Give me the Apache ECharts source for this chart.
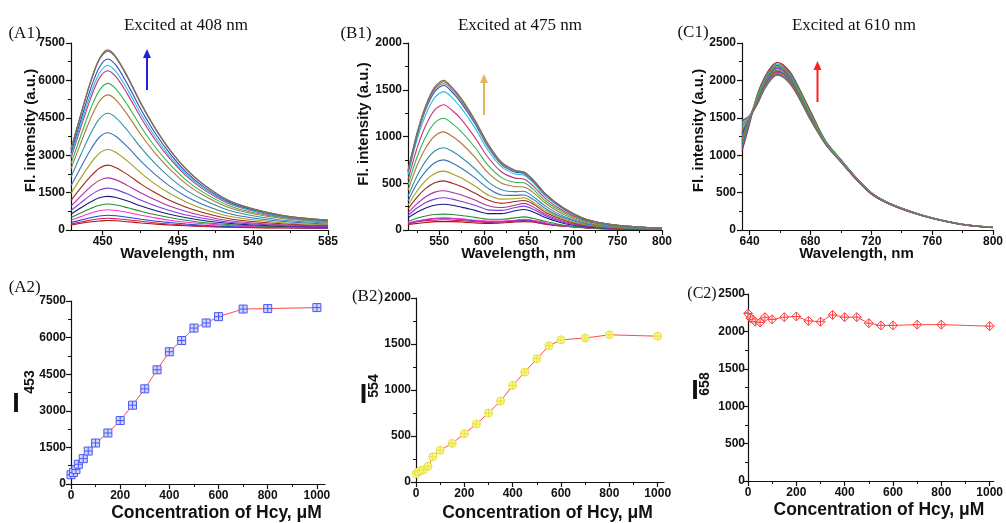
<!DOCTYPE html>
<html><head><meta charset="utf-8">
<script src="https://cdn.jsdelivr.net/npm/echarts@6/dist/echarts.min.js"></script>
<style>html,body{margin:0;padding:0;background:#fff}#c{width:1006px;height:523px}</style>
</head><body><div id="c"></div>
<script>
// ---------- data ----------
const concentrations = [0,10,20,30,50,70,100,150,200,250,300,350,400,450,500,550,600,700,800,1000];
const i453 = [380,470,590,810,1040,1350,1680,2090,2600,3230,3900,4680,5420,5880,6390,6600,6860,7170,7190,7230];
const i554 = [90,110,125,130,170,275,345,420,525,630,750,880,1050,1195,1340,1480,1545,1565,1600,1585];
const i658 = [2240,2180,2160,2130,2120,2190,2160,2190,2200,2140,2130,2220,2190,2190,2110,2080,2080,2090,2090,2070];

const a1Wavelengths = [431,437,443,448,453,458,465,473,481,490,500,510,525,540,560,585];
const a1Spectra = [
 [200,270,330,360,380,370,330,280,240,200,170,140,110,95,80,75],
 [240,320,400,450,470,450,410,350,290,240,200,160,125,105,90,80],
 [300,400,500,560,590,570,510,430,360,300,240,190,140,120,100,85],
 [390,540,680,770,810,780,700,590,490,390,310,250,180,140,110,95],
 [500,690,870,990,1040,1000,890,750,620,500,390,300,220,170,130,110],
 [630,890,1130,1290,1350,1300,1160,960,790,630,490,380,270,200,150,120],
 [780,1100,1410,1600,1680,1620,1440,1190,980,780,600,470,320,240,170,140],
 [960,1370,1750,1990,2090,2010,1780,1480,1220,960,740,570,380,280,200,160],
 [1190,1700,2170,2480,2600,2500,2220,1840,1510,1190,910,700,460,340,240,180],
 [1470,2100,2690,3080,3230,3110,2750,2280,1860,1470,1120,850,560,410,280,210],
 [1770,2530,3250,3720,3900,3750,3320,2750,2250,1770,1340,1020,670,480,330,240],
 [2120,3040,3900,4460,4680,4500,3980,3290,2690,2120,1600,1220,800,570,380,280],
 [2450,3510,4510,5160,5420,5210,4610,3810,3110,2450,1850,1400,910,650,440,310],
 [2650,3810,4900,5600,5880,5650,5000,4130,3370,2650,2000,1520,990,700,470,330],
 [2880,4140,5320,6090,6390,6140,5430,4490,3660,2880,2170,1640,1070,760,500,360],
 [2970,4270,5500,6290,6600,6350,5610,4640,3780,2970,2240,1700,1100,780,520,370],
 [3090,4440,5710,6530,6860,6600,5830,4820,3930,3090,2320,1760,1140,810,540,380],
 [3220,4640,5970,6830,7170,6890,6100,5040,4110,3220,2430,1840,1190,840,560,390],
 [3230,4650,5990,6850,7190,6910,6120,5050,4120,3230,2440,1850,1190,850,560,400],
 [3250,4680,6020,6880,7230,6950,6150,5080,4140,3250,2450,1850,1200,850,560,400]
];

const b1Wavelengths = [515,525,535,545,555,565,575,590,605,620,635,645,655,670,690,715,750,800];
const b1Spectra = [
 [60,70,80,90,90,90,85,75,70,75,85,90,85,60,40,20,10,5],
 [65,85,100,105,110,105,100,90,80,85,95,100,90,65,40,25,10,5],
 [70,95,110,120,125,120,115,100,90,90,100,110,100,70,45,25,10,5],
 [75,95,115,125,130,125,120,105,95,95,105,115,105,75,45,25,10,5],
 [90,125,150,165,170,165,155,135,115,115,130,140,125,90,50,25,10,5],
 [130,190,235,265,275,265,245,210,175,175,205,220,195,130,70,35,15,5],
 [155,235,295,330,345,330,305,265,215,210,240,255,225,150,80,40,15,5],
 [185,280,355,405,420,400,375,320,260,240,265,285,250,165,90,45,20,5],
 [225,350,445,505,525,500,465,395,320,285,305,315,280,185,105,50,20,10],
 [265,415,530,605,630,600,555,470,375,330,335,345,300,205,115,55,25,10],
 [310,495,630,720,750,715,660,560,445,375,370,375,330,225,130,65,30,10],
 [360,575,740,845,880,840,775,655,515,430,410,415,360,250,145,70,30,10],
 [425,685,880,1005,1050,1000,925,780,610,500,465,460,405,280,165,80,35,15],
 [480,775,1000,1145,1195,1135,1050,885,690,560,510,505,440,305,185,90,40,15],
 [535,870,1120,1285,1340,1275,1180,990,775,620,555,545,475,330,200,100,45,15],
 [590,960,1235,1415,1480,1410,1300,1095,850,675,600,585,510,355,220,110,50,20],
 [615,1000,1290,1480,1545,1470,1355,1140,885,700,620,605,525,370,225,110,50,20],
 [620,1015,1305,1500,1565,1490,1375,1155,900,710,630,615,535,375,230,115,50,20],
 [635,1035,1335,1530,1600,1520,1405,1180,920,725,640,620,540,380,235,115,50,20],
 [630,1025,1325,1515,1585,1510,1390,1170,910,720,635,620,540,380,230,115,50,20]
];

const c1Wavelengths = [635,640,645,650,655,658,662,667,672,680,690,700,710,720,730,745,760,780,800];
const c1Spectra = [
 [1050,1420,1810,2050,2200,2240,2210,2100,1920,1590,1190,940,700,495,375,255,160,75,35],
 [1150,1470,1760,1990,2140,2180,2150,2040,1870,1550,1170,920,680,485,365,245,155,72,32],
 [1200,1490,1750,1970,2120,2160,2130,2020,1860,1530,1170,930,695,495,372,252,162,76,36],
 [1250,1500,1720,1950,2090,2130,2100,1990,1830,1510,1160,915,680,482,365,246,156,72,33],
 [1450,1530,1720,1940,2080,2120,2090,1990,1820,1500,1160,925,690,492,370,250,160,75,35],
 [1120,1460,1770,2000,2150,2190,2160,2050,1880,1550,1180,935,700,498,376,254,161,74,34],
 [1300,1510,1750,1970,2120,2160,2130,2020,1860,1530,1165,920,685,486,366,247,157,73,33],
 [1080,1440,1770,2000,2150,2190,2160,2050,1880,1550,1185,940,702,500,378,256,163,77,36],
 [1180,1490,1780,2010,2160,2200,2170,2060,1890,1560,1180,930,690,490,370,250,160,75,35],
 [1350,1510,1730,1960,2100,2140,2110,2000,1840,1520,1165,918,682,484,364,246,156,72,32],
 [1400,1520,1720,1950,2090,2130,2100,1990,1830,1510,1160,925,692,494,372,252,161,76,36],
 [1100,1450,1800,2030,2180,2220,2190,2080,1910,1570,1190,938,698,496,374,253,160,74,34],
 [1230,1500,1770,2000,2150,2190,2160,2050,1880,1550,1175,925,688,488,368,248,158,74,34],
 [1160,1480,1770,2000,2150,2190,2160,2050,1880,1550,1180,932,694,493,371,251,161,75,35],
 [1470,1530,1710,1930,2070,2110,2080,1980,1810,1500,1150,912,678,480,362,244,155,71,32],
 [1420,1520,1680,1900,2040,2080,2050,1950,1790,1480,1150,918,686,488,367,249,159,74,34],
 [1280,1500,1680,1900,2040,2080,2050,1950,1790,1480,1145,910,680,484,364,247,158,74,34],
 [1380,1510,1690,1910,2050,2090,2060,1960,1800,1480,1155,922,690,492,371,252,162,76,36],
 [1210,1490,1690,1910,2050,2090,2060,1960,1800,1480,1150,915,684,486,366,248,158,74,34],
 [1320,1500,1680,1890,2030,2070,2040,1940,1780,1470,1140,908,678,482,363,245,156,73,33]
];

// tick labels
const a1Ticks = [450,495,540,585];
const a1Minor = [472.5,517.5,562.5];
const b1Ticks = [550,600,650,700,750,800];
const b1Minor = [525,575,625,675,725,775];
const c1Ticks = [640,680,720,760,800];
const c1Minor = [660,700,740,780];
const concTicks = [0,200,400,600,800,1000];
const concMinor = [100,300,500,700,900];

// ---------- styles ----------
const sans = '"Liberation Sans", Arial, sans-serif';
const serifFont = '"Liberation Serif", "Times New Roman", serif';
const ink = '#111';
const palette = ['#b01010','#d02050','#2040e0','#ff30d0','#209030','#1a1a80','#7b3fe0','#b030a0','#a02818','#a0a020',
                 '#3a70b8','#3090a8','#b07838','#30b850','#c8307a','#30c0d8','#3048c8','#909090','#8a6e50','#787060'];

const grids = [
  {left: 71, top: 43, width: 257, height: 187},
  {left: 408, top: 43, width: 254, height: 187},
  {left: 742, top: 43, width: 255, height: 187},
  {left: 71, top: 301, width: 254, height: 186},
  {left: 416, top: 298, width: 248, height: 187},
  {left: 748, top: 294, width: 251, height: 187}
];

const xSpecs = [
  {min: 431, max: 585, major: a1Ticks, minor: a1Minor, name: 'Wavelength, nm', gap: 16, pad: [0,44,0,0], size: 15},
  {min: 515, max: 800, major: b1Ticks, minor: b1Minor, name: 'Wavelength, nm', gap: 16, pad: [0,33,0,0], size: 15},
  {min: 635, max: 800, major: c1Ticks, minor: c1Minor, name: 'Wavelength, nm', gap: 16, pad: [0,22,0,0], size: 15},
  {min: 0, max: 1033, major: concTicks, minor: concMinor, name: 'Concentration of Hcy, μM', gap: 20, pad: [0,0,0,37], size: 17.5},
  {min: 0, max: 1026, major: concTicks, minor: concMinor, name: 'Concentration of Hcy, μM', gap: 22, pad: [0,0,0,15], size: 17.5},
  {min: 0, max: 1017, major: concTicks, minor: concMinor, name: 'Concentration of Hcy, μM', gap: 20, pad: [0,0,0,16], size: 17.5}
];
const ySpecs = [
  {max: 7500, interval: 1500, name: 'Fl. intensity (a.u.)', gap: 33, pad: [0,0,0,12], margin: 6},
  {max: 2000, interval: 500, name: 'Fl. intensity (a.u.)', gap: 37, pad: [0,0,0,25], margin: 6},
  {max: 2500, interval: 500, name: 'Fl. intensity (a.u.)', gap: 36, pad: [0,0,0,12], margin: 6},
  {max: 7500, interval: 1500, margin: 5},
  {max: 2000, interval: 500, margin: 5},
  {max: 2500, interval: 500, margin: 3}
];

const tickLabel = {fontFamily: sans, fontWeight: 'bold', fontSize: 12, color: ink};

const xAxes = [];
xSpecs.forEach((s, i) => {
  xAxes.push({
    type: 'value', gridIndex: i, min: s.min, max: s.max, position: 'bottom',
    axisLine: {onZero: false, lineStyle: {color: ink, width: 1.2}},
    axisTick: {customValues: s.major, length: 5, lineStyle: {color: ink, width: 1.2}},
    axisLabel: Object.assign({customValues: s.major, margin: 6, formatter: v => String(v)}, tickLabel),
    splitLine: {show: false},
    name: s.name, nameLocation: 'middle', nameGap: s.gap, nameMoveOverlap: false,
    nameTextStyle: {fontFamily: sans, fontWeight: 'bold', fontSize: s.size, color: ink, padding: s.pad}
  });
});
xSpecs.forEach((s, i) => {
  xAxes.push({
    type: 'value', gridIndex: i, min: s.min, max: s.max, position: 'bottom',
    axisLine: {show: false, onZero: false},
    axisTick: {customValues: s.minor, length: 3, lineStyle: {color: ink, width: 1}},
    axisLabel: {show: false},
    splitLine: {show: false}
  });
});

const yAxes = ySpecs.map((s, i) => {
  const ax = {
    type: 'value', gridIndex: i, min: 0, max: s.max, interval: s.interval,
    axisLine: {show: true, onZero: false, lineStyle: {color: ink, width: 1.2}},
    axisTick: {show: true, length: 5, lineStyle: {color: ink, width: 1.2}},
    minorTick: {show: true, splitNumber: 2, length: 3, lineStyle: {color: ink, width: 1}},
    axisLabel: Object.assign({margin: s.margin, formatter: v => String(v)}, tickLabel),
    splitLine: {show: false}, minorSplitLine: {show: false}
  };
  if (s.name) {
    Object.assign(ax, {name: s.name, nameLocation: 'middle', nameRotate: 90, nameGap: s.gap, nameMoveOverlap: false,
      nameTextStyle: {fontFamily: sans, fontWeight: 'bold', fontSize: 15, color: ink, padding: s.pad}});
  }
  return ax;
});

function spectraSeries(wl, rows, idx) {
  return rows.map((row, k) => ({
    type: 'line', xAxisIndex: idx, yAxisIndex: idx, symbol: 'none', silent: true,
    smooth: 0.3, z: 2,
    lineStyle: {width: 1.1, color: palette[k]},
    data: wl.map((w, j) => [w, row[j]])
  }));
}

const squarePlus = 'path://M0,0L10,0L10,10L0,10ZM5,0L5,10M0,5L10,5';
const circlePlus = 'path://M10,5A5,5,0,1,1,0,5A5,5,0,1,1,10,5ZM5,0L5,10M0,5L10,5';
const diamondPlus = 'path://M5,0L10,5L5,10L0,5ZM5,0L5,10M0,5L10,5';

const series = [].concat(
  spectraSeries(a1Wavelengths, a1Spectra, 0),
  spectraSeries(b1Wavelengths, b1Spectra, 1),
  spectraSeries(c1Wavelengths, c1Spectra, 2),
  [
    {type: 'line', xAxisIndex: 3, yAxisIndex: 3, data: concentrations.map((c, i) => [c, i453[i]]),
     symbol: squarePlus, symbolSize: 8, lineStyle: {color: '#ff4a4a', width: 1},
     itemStyle: {color: '#d0d4ff', borderColor: '#4a5af0', borderWidth: 1}},
    {type: 'line', xAxisIndex: 4, yAxisIndex: 4, data: concentrations.map((c, i) => [c, i554[i]]),
     symbol: circlePlus, symbolSize: 8, lineStyle: {color: '#ff4a4a', width: 1},
     itemStyle: {color: '#fafa80', borderColor: '#e8de50', borderWidth: 1}},
    {type: 'line', xAxisIndex: 5, yAxisIndex: 5, data: concentrations.map((c, i) => [c, i658[i]]),
     symbol: diamondPlus, symbolSize: 9, lineStyle: {color: '#ff4a4a', width: 1},
     itemStyle: {color: 'rgba(255,255,255,0.6)', borderColor: '#ff4040', borderWidth: 1}}
  ]
);

function txt(x, y, text, font, extra) {
  return Object.assign({type: 'text', x: x, y: y, silent: true,
    style: {text: text, font: font, fill: ink, align: 'center', verticalAlign: 'middle'}}, extra || {});
}
function arrow(x, tipY, tailY, color) {
  return {type: 'group', silent: true, children: [
    {type: 'rect', shape: {x: x - 1, y: tipY + 8, width: 2, height: tailY - tipY - 8}, style: {fill: color}},
    {type: 'polygon', shape: {points: [[x - 4, tipY + 9], [x + 4, tipY + 9], [x, tipY]]}, style: {fill: color}}
  ]};
}

const titleFont = '17px ' + serifFont;
const panelFont = '17px ' + serifFont;
const bigI = 'bold 27px ' + sans;
const subFont = 'bold 14px ' + sans;

const graphic = [
  txt(186, 26, 'Excited at 408 nm', titleFont),
  txt(520, 26, 'Excited at 475 nm', titleFont),
  txt(854, 26, 'Excited at 610 nm', titleFont),
  txt(24.5, 34, '(A1)', panelFont),
  txt(356, 34, '(B1)', panelFont),
  txt(693, 33, '(C1)', panelFont),
  txt(24.7, 288, '(A2)', panelFont),
  txt(367.5, 297, '(B2)', panelFont),
  txt(702, 294, '(C2)', '16px ' + serifFont),
  txt(16, 405, 'I', bigI),
  txt(30, 382, '453', subFont, {rotation: Math.PI / 2}),
  txt(363.5, 396, 'I', bigI),
  txt(374, 386, '554', subFont, {rotation: Math.PI / 2}),
  txt(695, 391.5, 'I', bigI),
  txt(705.5, 384, '658', subFont, {rotation: Math.PI / 2}),
  arrow(147, 49, 90, '#2020e0'),
  arrow(484, 74, 115, '#e6b45c'),
  arrow(817.5, 61, 102, '#ff2020')
];

const chart = echarts.init(document.getElementById('c'), null, {renderer: 'canvas'});
chart.setOption({
  animation: false,
  backgroundColor: '#fff',
  grid: grids,
  xAxis: xAxes,
  yAxis: yAxes,
  series: series,
  graphic: graphic
});
</script>
</body></html>
